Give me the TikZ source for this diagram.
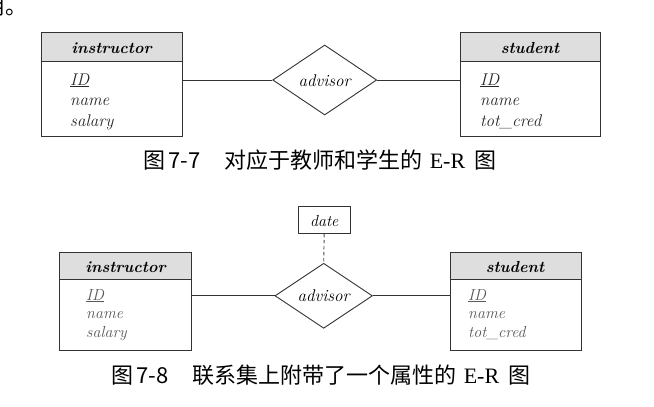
\documentclass[tikz,border=0pt]{standalone}
\usepackage{fontspec}
\usetikzlibrary{shapes.geometric,calc}
\newfontfamily\cjk{Noto Sans CJK SC}
\newfontfamily\serifer{Liberation Serif}
\tikzset{
  boxline/.style={draw=black!80, line width=0.9pt},
  ebox/.style={boxline, inner sep=0pt, rectangle},
  hdrbox/.style={ebox, fill=black!13, anchor=north},
  rel/.style={diamond, boxline, inner sep=0pt},
  conn/.style={black!80, line width=0.9pt},
  dconn/.style={black!70, line width=0.9pt, dash pattern=on 3.5pt off 2.5pt},
  ename/.style={font=\fontsize{16}{19}\selectfont\bfseries\itshape, anchor=base, inner sep=0pt},
  attrA/.style={font=\fontsize{17}{20}\selectfont\itshape, anchor=base west, inner sep=0pt, text=black!85},
  attrB/.style={font=\fontsize{16}{19}\selectfont\itshape, anchor=base west, inner sep=0pt, text=black!65},
  relname/.style={font=\fontsize{17}{20}\selectfont\itshape, anchor=base, inner sep=0pt},
  capt/.style={font=\cjk\fontsize{22}{25}\selectfont, anchor=base, inner sep=0pt}
}
\begin{document}
\begin{tikzpicture}[x=1pt,y=-1pt]
\useasboundingbox (0,0) rectangle (654,407);
% fragment of preceding text
\node[capt, anchor=base west] (frag) at (-17,14) {用。};

% ---------- Figure 7-7 ----------
\node[ebox, minimum width=141.7pt, minimum height=104pt] (ins1) at (111.9,84.7) {};
\node[hdrbox, minimum width=141.7pt, minimum height=28.3pt] (ins1h) at (ins1.north) {};
\node[ename] (ins1n) at (111.5,53) {instructor};
\node[attrA] (ins1a) at (70,85) {\underline{ID}};
\node[attrA] (ins1b) at (70,105.5) {name};
\node[attrA] (ins1c) at (70,126) {salary};

\node[ebox, minimum width=140pt, minimum height=104pt] (stu1) at (530,84.7) {};
\node[hdrbox, minimum width=140pt, minimum height=28.3pt] (stu1h) at (stu1.north) {};
\node[ename] (stu1n) at (530,53) {student};
\node[attrA] (stu1a) at (480,85) {\underline{ID}};
\node[attrA] (stu1b) at (480,105.5) {name};
\node[attrA] (stu1c) at (480,126) {tot\_cred};

\node[rel, minimum width=104pt, minimum height=70pt] (adv1) at (324.7,80) {};
\node[relname] (adv1n) at (324.7,86) {advisor};

\draw[conn] (adv1.west) -- (adv1.west -| ins1.east);
\draw[conn] (adv1.east) -- (adv1.east -| stu1.west);

\node[capt] (cap1) at (320,168) {图\hspace{3pt}7-7\hspace{24pt}对应于教师和学生的\hspace{7pt}{\serifer E-R}\hspace{9pt}图};

% ---------- Figure 7-8 ----------
\node[ebox, minimum width=131.7pt, minimum height=97.7pt] (ins2) at (125.2,301.2) {};
\node[hdrbox, minimum width=131.7pt, minimum height=26.7pt] (ins2h) at (ins2.north) {};
\node[ename] (ins2n) at (125.5,272) {instructor};
\node[attrB] (ins2a) at (86,300) {\underline{ID}};
\node[attrB] (ins2b) at (86,318.5) {name};
\node[attrB] (ins2c) at (86,337) {salary};

\node[ebox, minimum width=131.7pt, minimum height=97.7pt] (stu2) at (515.8,301.2) {};
\node[hdrbox, minimum width=131.7pt, minimum height=26.7pt] (stu2h) at (stu2.north) {};
\node[ename] (stu2n) at (515,272) {student};
\node[attrB] (stu2a) at (468,300) {\underline{ID}};
\node[attrB] (stu2b) at (468,318.5) {name};
\node[attrB] (stu2c) at (468,337) {tot\_cred};

\node[rel, minimum width=97.5pt, minimum height=65pt] (adv2) at (323.7,295.8) {};
\node[relname] (adv2n) at (323.7,301.5) {advisor};

\node[ebox, minimum width=51.7pt, minimum height=27.3pt] (date) at (324.2,219.7) {};
\node[relname, font=\fontsize{16}{19}\selectfont\itshape] (daten) at (324.2,226) {date};

\draw[conn] (adv2.west) -- (adv2.west -| ins2.east);
\draw[conn] (adv2.east) -- (adv2.east -| stu2.west);
\draw[dconn] (date.south) -- (adv2.north);

\node[capt] (cap2) at (321,383) {图\hspace{3pt}7-8\hspace{24pt}联系集上附带了一个属性的\hspace{7pt}{\serifer E-R}\hspace{9pt}图};
\end{tikzpicture}
\end{document}
